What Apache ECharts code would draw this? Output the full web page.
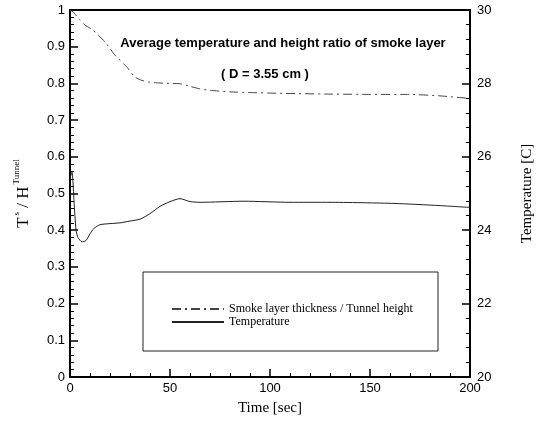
<!DOCTYPE html>
<html>
<head>
<meta charset="utf-8">
<script src="https://cdn.jsdelivr.net/npm/echarts@6/dist/echarts.min.js"></script>
<style>html,body{margin:0;padding:0;background:#fff}#c{width:545px;height:421px}</style>
</head>
<body>
<div id="c"></div>
<script>
var smokeTime = [0, 1.5, 5, 7.5, 11.5, 17.5, 22.5, 28.5, 32.5, 36, 40, 45, 50, 55, 60, 65, 70, 80, 90, 105, 128, 150, 170, 185, 200];
var smokeRatio = [1.0, 0.995, 0.973, 0.959, 0.945, 0.913, 0.877, 0.844, 0.817, 0.808, 0.803, 0.801, 0.8, 0.799, 0.792, 0.785, 0.781, 0.777, 0.775, 0.773, 0.771, 0.77, 0.77, 0.766, 0.759];
var tempTime = [0, 1, 2, 3, 4, 6, 8, 10, 12, 15, 20, 25, 30, 35, 40, 45, 50, 55, 60, 65, 87, 110, 130, 162, 185, 200];
var tempC = [25.4, 25.6, 24.8, 24.0, 23.8, 23.68, 23.72, 23.9, 24.05, 24.15, 24.18, 24.2, 24.25, 24.3, 24.45, 24.65, 24.78, 24.86, 24.78, 24.76, 24.79, 24.76, 24.76, 24.73, 24.67, 24.62];
var seriesNames = ['Smoke layer thickness / Tunnel height', 'Temperature'];
var titleText = 'Average temperature and height ratio of smoke layer';
var subTitleText = '( D = 3.55 cm )';

function pairs(xs, ys) { return xs.map(function (x, i) { return [x, ys[i]]; }); }

var chart = echarts.init(document.getElementById('c'), null, {renderer: 'canvas'});
var axisLabelStyle = {color: '#000', fontFamily: 'Liberation Sans, Arial, sans-serif', fontSize: 13};
var serif = 'Liberation Serif, Times New Roman, serif';
chart.setOption({
  animation: false,
  backgroundColor: '#fff',
  grid: {left: 70, right: 75, top: 10, bottom: 44, show: true, borderColor: '#000', borderWidth: 2, backgroundColor: 'transparent'},
  title: [
    {text: titleText, left: 278, top: 32, textAlign: 'center',
     textStyle: {fontFamily: 'Liberation Sans, Arial, sans-serif', fontSize: 13, fontWeight: 'bold', color: '#000'}},
    {text: subTitleText, left: 260, top: 63, textAlign: 'center',
     textStyle: {fontFamily: 'Liberation Sans, Arial, sans-serif', fontSize: 13, fontWeight: 'bold', color: '#000'}}
  ],
  legend: {
    orient: 'vertical', left: 166, top: 298, itemWidth: 52, itemHeight: 10, itemGap: 1,
    itemStyle: {opacity: 0},
    textStyle: {fontFamily: serif, fontSize: 12, color: '#000'},
    data: seriesNames
  },
  graphic: [
    {type: 'rect', shape: {x: 143, y: 272, width: 295, height: 79}, style: {fill: 'none', stroke: '#222', lineWidth: 1}, z: 10}
  ],
  xAxis: {
    type: 'value', min: 0, max: 200, interval: 50,
    name: 'Time [sec]', nameLocation: 'middle', nameGap: 24,
    nameTextStyle: {fontFamily: serif, fontSize: 15, color: '#000'},
    axisLine: {show: true, lineStyle: {color: '#000', width: 2}},
    axisTick: {show: true, inside: true, length: 8, lineStyle: {color: '#000', width: 1.5}},
    minorTick: {show: true, splitNumber: 5, length: 4, lineStyle: {color: '#000'}},
    axisLabel: Object.assign({margin: 5}, axisLabelStyle),
    splitLine: {show: false}
  },
  yAxis: [
    {
      type: 'value', min: 0, max: 1, interval: 0.1, position: 'left',
      name: '{b|T}{sup|s}{b| / H}{sup|Tunnel}', nameLocation: 'middle', nameGap: 38, nameRotate: 90,
      nameTextStyle: {
        rich: {
          b: {fontFamily: serif, fontSize: 17, color: '#000', lineHeight: 20, verticalAlign: 'bottom'},
          sup: {fontFamily: serif, fontSize: 9, color: '#000', lineHeight: 20, verticalAlign: 'top', padding: [0, 0, 10, 2]}
        }
      },
      axisLine: {show: true, lineStyle: {color: '#000', width: 2}},
      axisTick: {show: true, inside: true, length: 8, lineStyle: {color: '#000', width: 1.5}},
      minorTick: {show: true, splitNumber: 5, length: 4, lineStyle: {color: '#000'}},
      axisLabel: Object.assign({margin: 5}, axisLabelStyle),
      splitLine: {show: false}
    },
    {
      type: 'value', min: 20, max: 30, interval: 2, position: 'right',
      name: 'Temperature [C]', nameLocation: 'middle', nameGap: 50, nameRotate: 90,
      nameTextStyle: {fontFamily: serif, fontSize: 15, color: '#000'},
      axisLine: {show: true, lineStyle: {color: '#000', width: 2}},
      axisTick: {show: true, inside: true, length: 8, lineStyle: {color: '#000', width: 1.5}},
      minorTick: {show: true, splitNumber: 5, length: 4, lineStyle: {color: '#000'}},
      axisLabel: Object.assign({margin: 7}, axisLabelStyle),
      splitLine: {show: false}
    }
  ],
  series: [
    {
      name: seriesNames[0], type: 'line', yAxisIndex: 0, data: pairs(smokeTime, smokeRatio),
      symbol: 'none', smooth: 0.15,
      lineStyle: {color: '#444', width: 1, type: [9, 4, 2, 4]},
      itemStyle: {color: '#444'}
    },
    {
      name: seriesNames[1], type: 'line', yAxisIndex: 1, data: pairs(tempTime, tempC),
      symbol: 'none', smooth: 0.2,
      lineStyle: {color: '#222', width: 1},
      itemStyle: {color: '#222'}
    }
  ]
});
</script>
</body>
</html>
